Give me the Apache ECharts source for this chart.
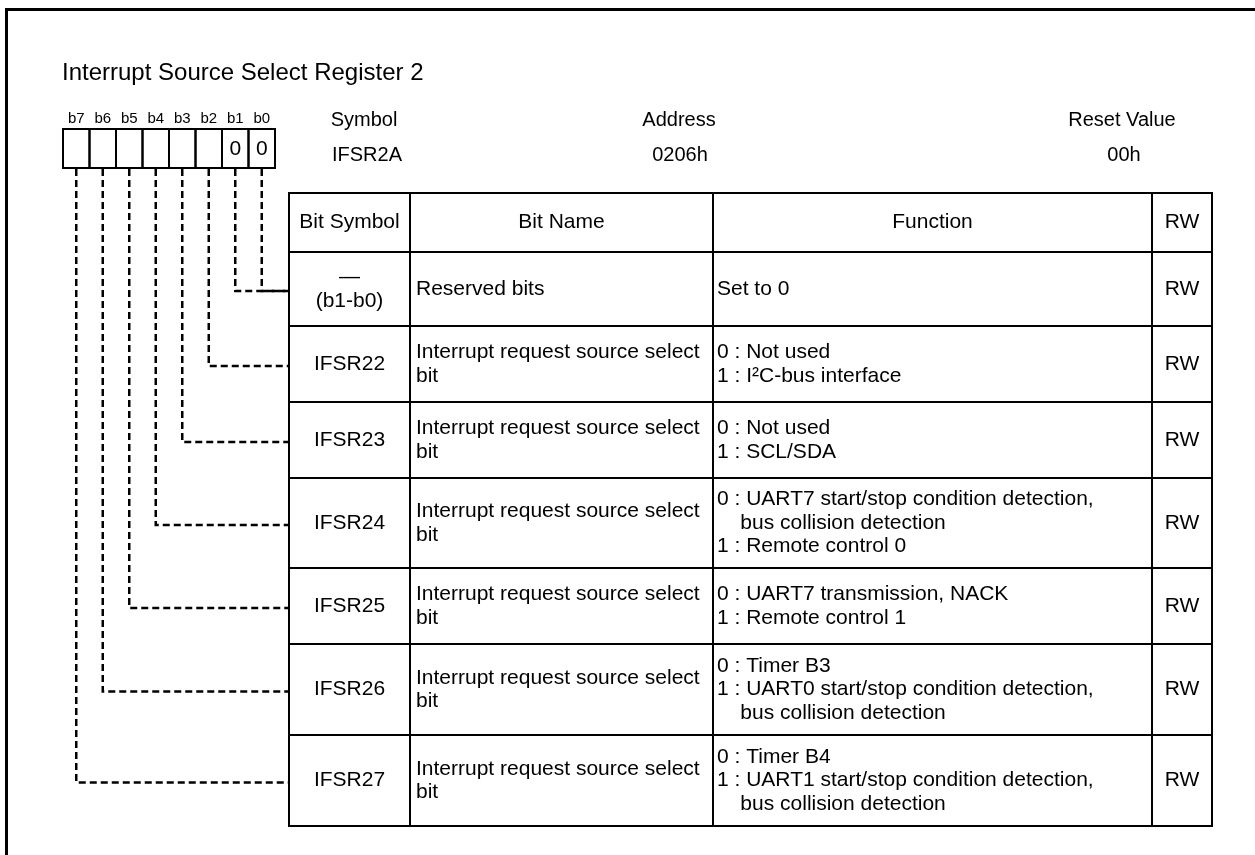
<!DOCTYPE html>
<html>
<head>
<meta charset="utf-8">
<script src="https://cdn.jsdelivr.net/npm/echarts@6/dist/echarts.min.js"></script>
<style>
html,body{margin:0;padding:0;background:#fff;}
#chart{width:1255px;height:855px;}
</style>
</head>
<body>
<div id="chart"></div>
<script>
// ---- data ----
const titleText = 'Interrupt Source Select Register 2';
const bitLabels = ['b7','b6','b5','b4','b3','b2','b1','b0'];
const bitValues = ['','','','','','','0','0'];
const infoLabels = ['Symbol','Address','Reset Value'];
const infoValues = ['IFSR2A','0206h','00h'];
const columnTitles = ['Bit Symbol','Bit Name','Function','RW'];
const bitSymbols = [['\u2014','(b1-b0)'],['IFSR22'],['IFSR23'],['IFSR24'],['IFSR25'],['IFSR26'],['IFSR27']];
const bitNames = [
  ['Reserved bits'],
  ['Interrupt request source select','bit'],
  ['Interrupt request source select','bit'],
  ['Interrupt request source select','bit'],
  ['Interrupt request source select','bit'],
  ['Interrupt request source select','bit'],
  ['Interrupt request source select','bit']
];
const functions = [
  ['Set to 0'],
  ['0 : Not used','1 : I\u00B2C-bus interface'],
  ['0 : Not used','1 : SCL/SDA'],
  ['0 : UART7 start/stop condition detection,','    bus collision detection','1 : Remote control 0'],
  ['0 : UART7 transmission, NACK','1 : Remote control 1'],
  ['0 : Timer B3','1 : UART0 start/stop condition detection,','    bus collision detection'],
  ['0 : Timer B4','1 : UART1 start/stop condition detection,','    bus collision detection']
];
const rwValues = ['RW','RW','RW','RW','RW','RW','RW'];
// which table row each bit (b7..b0) leads to
const bitRow = [6,5,4,3,2,1,0,0];

// ---- layout ----
const FONT = '"Liberation Sans", Arial, Helvetica, sans-serif';
const boxX0 = 63, boxW = 26.5, boxY0 = 129, boxY1 = 168;
const colX = [289, 410, 713, 1152, 1212];
const rowY = [193, 252, 326, 402, 478, 568, 644, 735, 826];
const LH = 23.5;
const BODY = 21;
const els = [];

function txt(x, y, s, size, align) {
  return {type:'text', x:x, y:y, silent:true,
    style:{text:s, font: size + 'px ' + FONT, fill:'#000',
      textAlign: align || 'left', textVerticalAlign:'middle',
      align: align || 'left', verticalAlign:'middle'}};
}
function line(x1,y1,x2,y2,w){
  return {type:'line', silent:true, shape:{x1:x1,y1:y1,x2:x2,y2:y2}, style:{stroke:'#000', lineWidth:w||2}};
}
function multi(x, cy, lines, size, align){
  const n = lines.length;
  lines.forEach(function(s,i){ els.push(txt(x, cy - (n-1)*LH/2 + i*LH, s, size, align)); });
}

// outer frame
els.push({type:'rect', silent:true, shape:{x:6.5, y:9.5, width:1300, height:900}, style:{fill:'none', stroke:'#000', lineWidth:3}});
// title
els.push(txt(62, 73, titleText, 24, 'left'));

// bit boxes
bitLabels.forEach(function(lb, i){
  const x = boxX0 + i*boxW;
  els.push(txt(x + boxW/2, 119, lb, 15, 'center'));
  els.push({type:'rect', silent:true, shape:{x:x, y:boxY0, width:boxW, height:boxY1-boxY0}, style:{fill:'none', stroke:'#000', lineWidth:2}});
  if (bitValues[i]) els.push(txt(x + boxW/2, (boxY0+boxY1)/2 + 1, bitValues[i], 21, 'center'));
});

// info header
const infoX = [364, 679, 1122];
const infoVX = [367, 680, 1124];
infoLabels.forEach(function(s,i){
  els.push(txt(infoX[i], 120, s, 20, 'center'));
  els.push(txt(infoVX[i], 155, infoValues[i], 20, 'center'));
});

// table grid
for (let r = 0; r < rowY.length; r++) els.push(line(colX[0]-1, rowY[r], colX[4]+1, rowY[r], 2));
for (let c = 0; c < colX.length; c++) els.push(line(colX[c], rowY[0]-1, colX[c], rowY[rowY.length-1]+1, 2));

// column titles
const hc = (rowY[0]+rowY[1])/2;
columnTitles.forEach(function(s,i){ els.push(txt((colX[i]+colX[i+1])/2, hc, s, BODY, 'center')); });

// rows
for (let r = 0; r < bitSymbols.length; r++) {
  const cy = (rowY[r+1]+rowY[r+2])/2;
  multi((colX[0]+colX[1])/2, cy, bitSymbols[r], BODY, 'center');
  multi(colX[1]+6, cy, bitNames[r], BODY, 'left');
  multi(colX[2]+4, cy, functions[r], BODY, 'left');
  multi((colX[3]+colX[4])/2, cy, [rwValues[r]], BODY, 'center');
}

// dashed leaders
bitLabels.forEach(function(lb, i){
  const x = boxX0 + i*boxW + boxW/2;
  const r = bitRow[i];
  const cy = (rowY[r+1]+rowY[r+2])/2 + 2;
  els.push({type:'polyline', silent:true, shape:{points:[[x, boxY1+1],[x, cy],[colX[0], cy]]},
    style:{stroke:'#000', lineWidth:2.5, lineDash:[7,4], fill:null}});
});

const chart = echarts.init(document.getElementById('chart'), null, {renderer:'canvas'});
chart.setOption({backgroundColor:'#fff', animation:false, graphic:{elements:els}});
</script>
</body>
</html>
